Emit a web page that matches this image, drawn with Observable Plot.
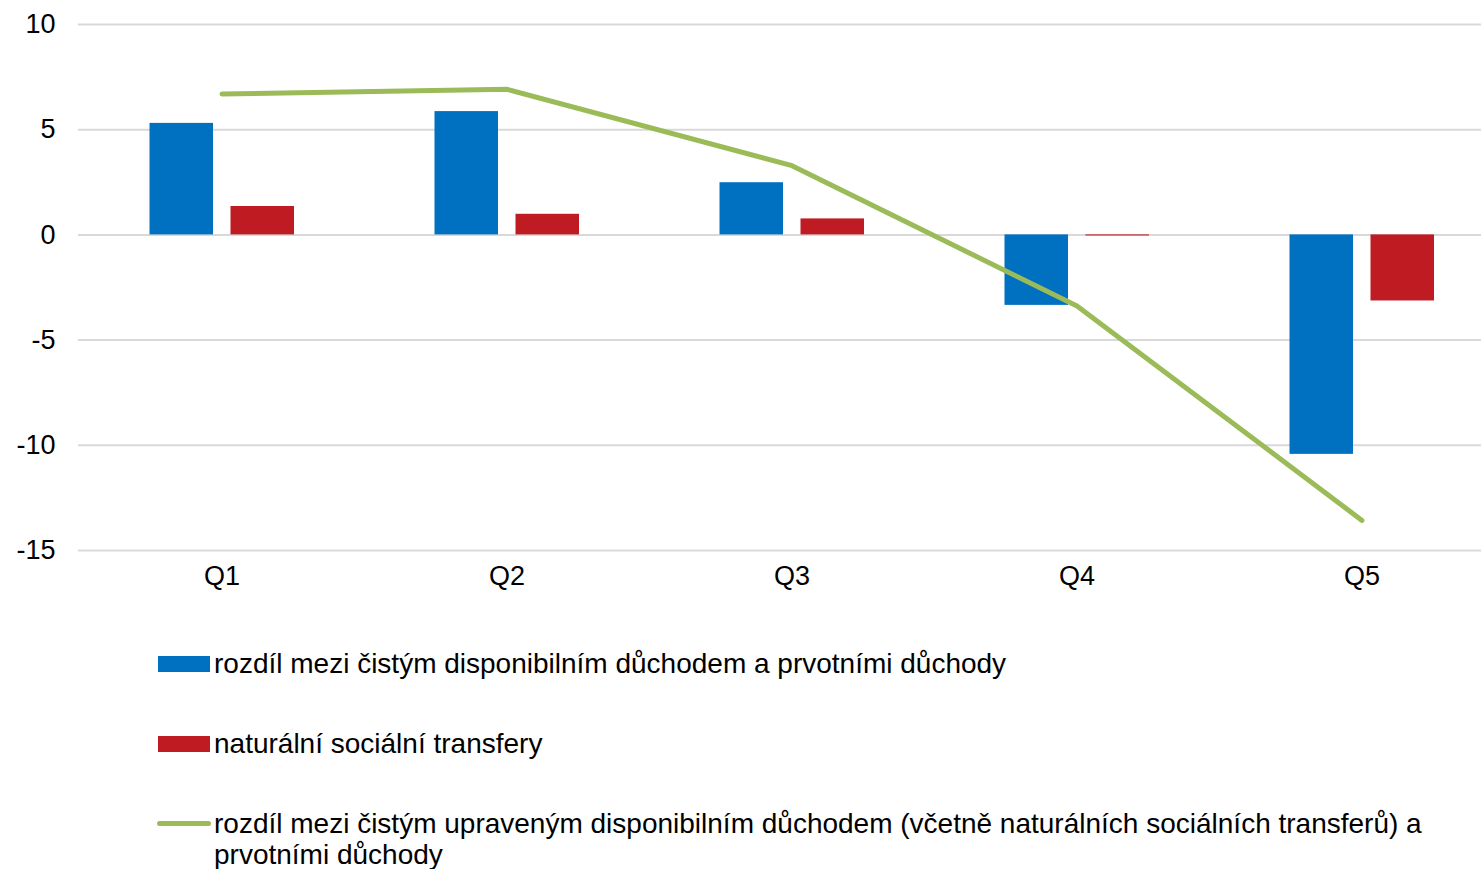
<!DOCTYPE html>
<html>
<head>
<meta charset="utf-8">
<script src="https://cdn.jsdelivr.net/npm/d3@7"></script>
<script src="https://cdn.jsdelivr.net/npm/@observablehq/plot@0.6"></script>
<style>
  html, body { margin: 0; padding: 0; background: #fff; overflow: hidden; }
  body { font-family: "Liberation Sans", Arial, sans-serif; width: 1481px; height: 869px; position: relative; }
  #legend { position: absolute; left: 157px; top: 648px; font-size: 28px; color: #000; }
  .item { display: flex; align-items: flex-start; height: 80px; }
  .sw { flex: none; width: 52px; margin-right: 5px; position: relative; height: 32px; }
  .sw .box { position: absolute; left: 1px; top: 8px; width: 52px; height: 16px; }
  .sw .ln { position: absolute; left: 0; top: 13px; width: 54px; height: 5px; border-radius: 3px; }
  .txt { line-height: 31px; width: 1245px; }
</style>
</head>
<body>
<div id="chart"></div>
<div id="legend"></div>
<script>
const quarters = ["Q1", "Q2", "Q3", "Q4", "Q5"];
const disposableDiff = [5.3, 5.86, 2.48, -3.35, -10.43];
const socialTransfers = [1.35, 0.98, 0.76, -0.05, -3.14];
const adjustedDiff = [6.7, 6.92, 3.29, -3.38, -13.57];
const yTicks = [-15, -10, -5, 0, 5, 10];
const seriesNames = [
  "rozdíl mezi čistým disponibilním důchodem a prvotními důchody",
  "naturální sociální transfery",
  "rozdíl mezi čistým upraveným disponibilním důchodem (včetně naturálních sociálních transferů) a prvotními důchody"
];
const colors = ["#0070C0", "#BE1B23", "#9BBB59"];

const blueData = quarters.map((q, i) => ({q, v: disposableDiff[i]}));
const redData = quarters.map((q, i) => ({q, v: socialTransfers[i]}));
const lineData = quarters.map((q, i) => ({q, v: adjustedDiff[i]}));

const chart = Plot.plot({
  width: 1481,
  height: 600,
  marginLeft: 78,
  marginRight: 0,
  marginTop: 24,
  marginBottom: 50,
  style: {fontFamily: "Liberation Sans, Arial, sans-serif", fontSize: "27px", color: "#000", background: "#fff", overflow: "visible"},
  x: {domain: quarters, range: [78.6, 1504], padding: 0, label: null},
  y: {domain: [-15, 10], label: null},
  marks: [
    Plot.ruleY(yTicks, {stroke: "#d9d9d9", strokeWidth: 2}),
    Plot.barY(blueData, {x: "q", y: "v", fill: colors[0], insetLeft: 70.5, insetRight: 151}),
    Plot.barY(redData, {x: "q", y: "v", fill: colors[1], insetLeft: 151.5, insetRight: 70}),
    Plot.line(lineData, {x: "q", y: "v", stroke: colors[2], strokeWidth: 5, strokeLinecap: "round", strokeLinejoin: "round"}),
    Plot.axisY({ticks: yTicks, tickSize: 0, tickPadding: 23, fontSize: 27, tickFormat: d => String(d)}),
    Plot.axisX({tickSize: 0, tickPadding: 15, fontSize: 27})
  ]
});
document.getElementById("chart").appendChild(chart);

const legend = document.getElementById("legend");
seriesNames.forEach((name, i) => {
  const item = document.createElement("div");
  item.className = "item";
  const sw = document.createElement("div");
  sw.className = "sw";
  const mark = document.createElement("div");
  mark.className = i < 2 ? "box" : "ln";
  mark.style.background = colors[i];
  sw.appendChild(mark);
  const t = document.createElement("div");
  t.className = "txt";
  t.textContent = name;
  item.appendChild(sw);
  item.appendChild(t);
  legend.appendChild(item);
});
</script>
</body>
</html>
